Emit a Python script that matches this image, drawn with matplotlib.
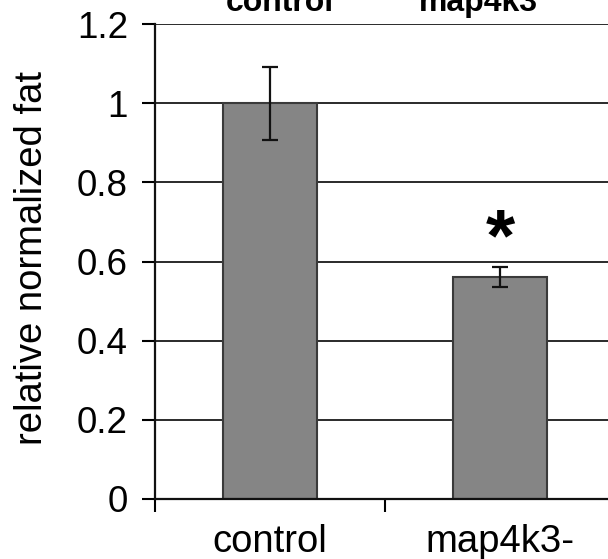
import matplotlib
matplotlib.use("Agg")
import matplotlib.pyplot as plt
import numpy as np

categories = ["control", "map4k3-"]
values = [1.0, 0.561]
errors = [0.092, 0.025]
yticks = [0, 0.2, 0.4, 0.6, 0.8, 1.0, 1.2]
ytick_labels = ["0", "0.2", "0.4", "0.6", "0.8", "1", "1.2"]
top_labels = ["control", "map4k3"]
sig_marks = ["", "*"]

plt.rcParams['font.family'] = ['Liberation Sans', 'DejaVu Sans']

W, H = 608, 559
fig = plt.figure(figsize=(W / 100, H / 100), dpi=100)
left, right, top, bottom = 155, 615, 24, 499
ax = fig.add_axes([left / W, 1 - bottom / H, (right - left) / W, (bottom - top) / H])

x = np.arange(len(categories)) + 0.5
ax.set_axisbelow(True)
ax.yaxis.grid(True, color='#2a2a2a', linewidth=1.4)
ax.bar(x, values, width=0.41, color='#858585', edgecolor='#3a3a3a', linewidth=1.5, zorder=2)
ax.errorbar(x, values, yerr=errors, fmt='none', ecolor='#111111', elinewidth=1.6,
            capsize=6, capthick=1.6, zorder=3)

for xi, v, e, m in zip(x, values, errors, sig_marks):
    if m:
        ax.text(xi, 0.652, m, ha='center', va='center', fontsize=54, fontweight='bold')

ax.set_xlim(0, 2)
ax.set_ylim(0, 1.2)
ax.set_yticks(yticks)
ax.set_yticklabels(ytick_labels, fontsize=26.5)
ax.set_xticks(x)
ax.set_xticklabels(categories, fontsize=27.5)
ax.set_xticks([0, 1, 2], minor=True)
ax.tick_params(axis='x', which='major', length=0, pad=18)
ax.tick_params(axis='x', which='minor', length=9, width=1.5, direction='out')
ax.tick_params(axis='y', length=9.5, width=1.5, pad=10, direction='out')

for s in ['top', 'right']:
    ax.spines[s].set_visible(False)
ax.spines['left'].set_linewidth(1.6)
ax.spines['bottom'].set_linewidth(1.6)
ax.spines['bottom'].set_color('#111111')
ax.spines['left'].set_color('#111111')

fig.text(50 / W, 1 - 258 / H, "relative normalized fat", rotation=90,
         ha='right', va='center', fontsize=27.5)

for lbl, cx in zip(top_labels, [280, 478]):
    fig.text(cx / W, 1 - 11 / H, lbl, ha='center', va='baseline',
             fontsize=23, fontweight='bold')

fig.savefig("out.png", dpi=100)
